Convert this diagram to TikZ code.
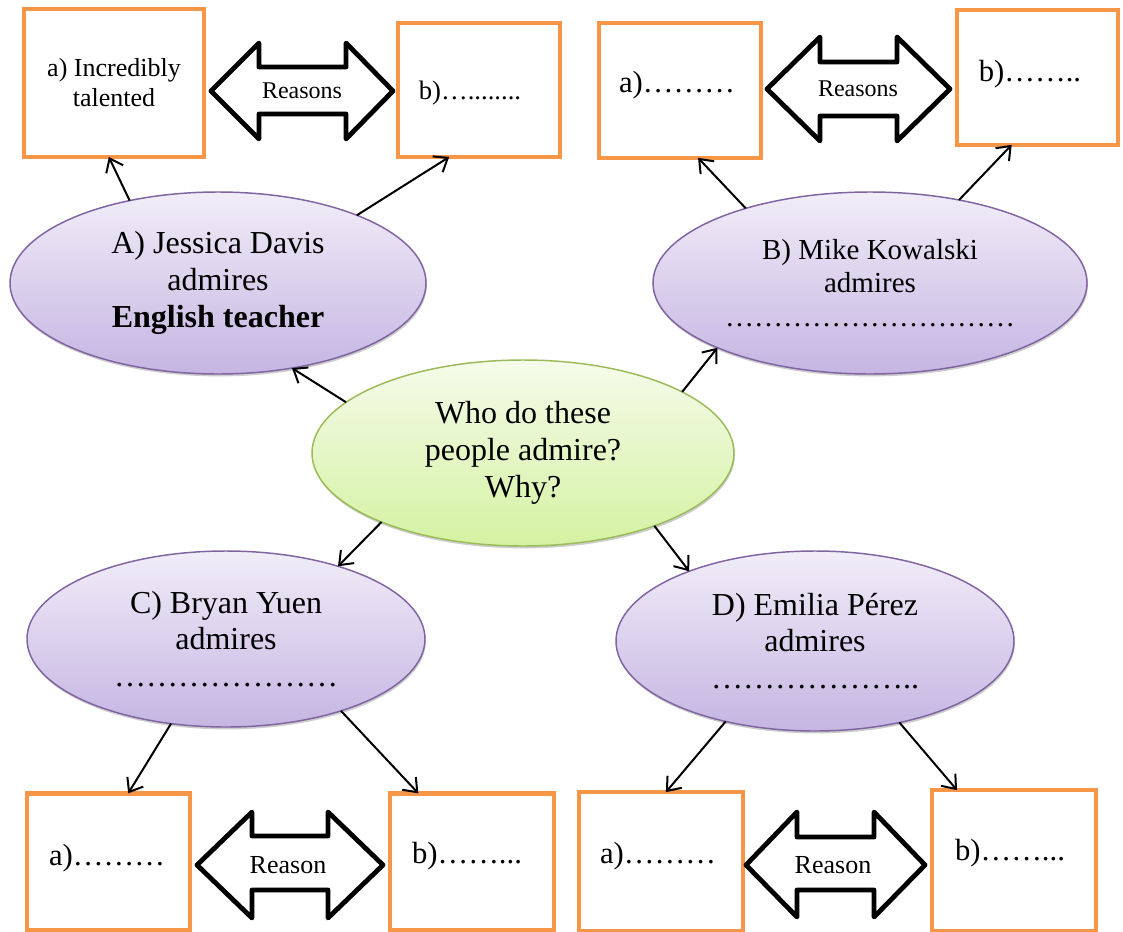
\documentclass[tikz,border=0pt]{standalone}
\usepackage{fontspec}
\setmainfont{Liberation Serif}
\usetikzlibrary{arrows.meta,shapes.geometric,shadows,calc}
\definecolor{boxorange}{HTML}{F79646}
\definecolor{purpleline}{HTML}{8064A2}
\definecolor{purpletop}{HTML}{F1EDF8}
\definecolor{purplebot}{HTML}{C5B5E2}
\definecolor{greenline}{HTML}{9BBB59}
\definecolor{greentop}{HTML}{F5FBEA}
\definecolor{greenbot}{HTML}{D4F2A2}
\begin{document}
\begin{tikzpicture}[x=0.75pt,y=-0.75pt,
  ellshadow/.style={drop shadow={shadow xshift=0.6pt,shadow yshift=-1.8pt,opacity=0.28,fill=black!70}},
  pell/.style={ellipse,draw=purpleline,line width=1.1pt,top color=purpletop,bottom color=purplebot,
    inner sep=0pt,outer sep=0pt,align=center,ellshadow},
  gell/.style={ellipse,draw=greenline,line width=1.1pt,top color=greentop,bottom color=greenbot,
    inner sep=0pt,outer sep=0pt,align=center,ellshadow},
  obox/.style={rectangle,draw=boxorange,line width=3.4pt,fill=white,inner sep=0pt,outer sep=0pt,align=center},
  conn/.style={line width=1.5pt,-{Straight Barb[length=9pt,width=14pt]}},
  barrow/.style={draw=black,line width=3.6pt,fill=white,line join=round},
  bigtext/.style={font=\fontsize{24pt}{27.5pt}\selectfont},
  midtext/.style={font=\fontsize{21.75pt}{25pt}\selectfont},
  boxtext/.style={font=\fontsize{23pt}{26pt}\selectfont,anchor=base,inner sep=0pt},
  smalltext/.style={font=\fontsize{19.5pt}{22.5pt}\selectfont},
]
\useasboundingbox (0,0) rectangle (1123,931);
\clip (0,0) rectangle (1123,931);
\fill[white] (0,0) rectangle (1123,931);

% ---------- boxes ----------
\node[obox,smalltext,minimum width=135pt,minimum height=111pt] (Aa) at (114,83) {a) Incredibly\\talented};
\node[obox,minimum width=121.5pt,minimum height=100.5pt] (Ab) at (479,90) {};
\node[obox,minimum width=121.5pt,minimum height=101pt] (Ba) at (680,90.5) {};
\node[obox,minimum width=121pt,minimum height=101pt] (Bb) at (1037.5,77.5) {};
\node[obox,minimum width=122pt,minimum height=103pt] (Ca) at (108.5,862) {};
\node[obox,minimum width=123pt,minimum height=103pt] (Cb) at (472,862) {};
\node[obox,minimum width=123pt,minimum height=104pt] (Da) at (661,861.5) {};
\node[obox,minimum width=123pt,minimum height=105.5pt] (Db) at (1014,860.5) {};

\node[boxtext,font=\fontsize{20pt}{22pt}\selectfont] (tAb) at (470,99) {b)…........};
\node[boxtext] (tBa) at (677,93) {a)………};
\node[boxtext] (tBb) at (1030,81) {b)……..};
\node[boxtext] (tCa) at (107,865) {a)………};
\node[boxtext] (tCb) at (467,863) {b)……...};
\node[boxtext] (tDa) at (658,863) {a)………};
\node[boxtext] (tDb) at (1010,860) {b)……...};

% ---------- double block arrows ----------
\draw[barrow] (211,91) -- (259,43) -- (259,67) -- (346,67) -- (346,43) -- (393,91)
  -- (346,139) -- (346,114) -- (259,114) -- (259,139) -- cycle;
\node[font=\fontsize{18pt}{20pt}\selectfont] (rA) at (302,91) {Reasons};
\draw[barrow] (767,89) -- (820,37) -- (820,62) -- (897,62) -- (897,37) -- (950,89)
  -- (897,141) -- (897,116) -- (820,116) -- (820,141) -- cycle;
\node[font=\fontsize{18pt}{20pt}\selectfont] (rB) at (858,89) {Reasons};
\draw[barrow] (197,865) -- (252,812) -- (252,836) -- (328,836) -- (328,812) -- (383,865)
  -- (328,918) -- (328,890) -- (252,890) -- (252,918) -- cycle;
\node[smalltext] (rC) at (288,865) {Reason};
\draw[barrow] (746,865) -- (797,812) -- (797,837) -- (874,837) -- (874,812) -- (925,865)
  -- (874,917) -- (874,890) -- (797,890) -- (797,917) -- cycle;
\node[smalltext] (rD) at (833,865) {Reason};

% ---------- ellipses ----------
\node[pell,bigtext,minimum width=312pt,minimum height=136.5pt] (A) at (218,283)
  {A) Jessica Davis\\admires\\\textbf{English teacher}};
\node[pell,midtext,minimum width=325.5pt,minimum height=136.5pt] (B) at (870,283)
  {B) Mike Kowalski\\admires\\…………………………};
\node[gell,bigtext,minimum width=316.5pt,minimum height=139.5pt] (M) at (523,453)
  {Who do these\\people admire?\\Why?};
\node[pell,bigtext,minimum width=298.5pt,minimum height=132pt] (C) at (226,639)
  {C) Bryan Yuen\\admires\\…………………};
\node[pell,bigtext,minimum width=298.5pt,minimum height=135pt] (D) at (815,641)
  {D) Emilia Pérez\\admires\\………………..};

% ---------- connectors ----------
\draw[conn] (A.137) -- (Aa.-94);
\draw[conn] (A.26) -- (Ab.-114);
\draw[conn] (B.149) -- (Ba.-75);
\draw[conn] (B.43) -- (Bb.-111);
\draw[conn] (M.164) -- (A.-49);
\draw[conn] (M.21) -- (B.-157);
\draw[conn] (M.-154) -- (C.33);
\draw[conn] (M.-29) -- (D.151);
\draw[conn] (C.-123) -- (Ca.74);
\draw[conn] (C.-32) -- (Cb.128);
\draw[conn] (D.-138) -- (Da.86);
\draw[conn] (D.-44) -- (Db.129);
\end{tikzpicture}
\end{document}
